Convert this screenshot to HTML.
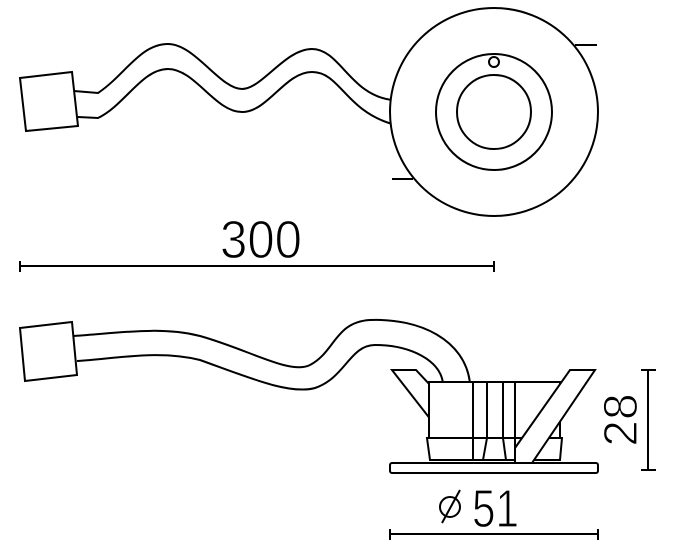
<!DOCTYPE html>
<html><head><style>html,body{margin:0;padding:0;background:#fff;}svg{display:block}</style></head>
<body>
<svg width="693" height="550" viewBox="0 0 693 550" xmlns="http://www.w3.org/2000/svg" fill="none" stroke="#000" stroke-width="2">
<!-- top view -->
<polygon points="20,78 72,72 78,126 26,131" fill="#fff"/>
<path d="M74,91 L98,93 C125,75 140,44 168,44 C195,44 220,89 242,89 C262,89 285,49 312,49 C340,49 350,95 392,100"/>
<path d="M78,117 L98,118 C125,105 142,69 168,69 C195,69 215,112 242,112 C268,112 285,72 312,72 C340,72 345,110 392,124"/>
<circle cx="494" cy="112" r="104" fill="#fff"/>
<circle cx="494" cy="112" r="58"/>
<circle cx="494" cy="112" r="37"/>
<circle cx="494" cy="62" r="5"/>
<line x1="575" y1="45" x2="597" y2="45"/>
<line x1="392" y1="179" x2="413" y2="179"/>
<!-- 300 dim -->
<line x1="20" y1="266" x2="494" y2="266"/>
<line x1="20" y1="261" x2="20" y2="272"/>
<line x1="494" y1="261" x2="494" y2="272"/>
<text x="261" y="258" font-family="Liberation Sans, sans-serif" font-size="54" text-anchor="middle" fill="#000" stroke="#fff" stroke-width="1.2" textLength="82" lengthAdjust="spacingAndGlyphs">300</text>
<!-- side view cable -->
<polygon points="20,328 72,322 77,375 25,381" fill="#fff"/>
<path d="M74,336 C120,333 160,326 200,336 C250,350 290,375 310,365 C335,352 335,322 370,320 C420,318 465,340 470,383"/>
<path d="M77,361 C120,358 160,350 200,360 C250,378 290,395 315,388 C345,378 350,345 375,345 C410,345 440,360 443,383"/>
<!-- fixture -->
<rect x="390" y="463" width="208" height="10" rx="2" fill="#fff"/>
<path d="M427,438 L562,438 L560,460 L430,460 Z" fill="#fff"/>
<polygon points="392,370 416,370 431,386 431,420" fill="#fff"/>
<rect x="429" y="382" width="131" height="56" fill="#fff"/>
<line x1="473" y1="382" x2="473" y2="460"/>
<line x1="487" y1="382" x2="487" y2="438"/>
<line x1="503" y1="382" x2="503" y2="438"/>
<line x1="515" y1="382" x2="515" y2="460"/>
<path d="M487,438 L483,460 M503,438 L506,460"/>
<line x1="429" y1="438" x2="562" y2="438"/>
<polygon points="570,370 595,370 532,463 515,463 515,448" fill="#fff"/>
<!-- 28 dim -->
<line x1="648" y1="370" x2="648" y2="470"/>
<line x1="641" y1="370" x2="656" y2="370"/>
<line x1="641" y1="470" x2="656" y2="470"/>
<text x="0" y="0" transform="translate(637,420) rotate(-90)" font-family="Liberation Sans, sans-serif" font-size="48" text-anchor="middle" fill="#000" stroke="#fff" stroke-width="1.2">28</text>
<!-- 51 dim -->
<line x1="390" y1="534" x2="598" y2="534"/>
<line x1="390" y1="529" x2="390" y2="540"/>
<line x1="598" y1="529" x2="598" y2="540"/>
<circle cx="450" cy="507" r="10"/>
<line x1="442" y1="523" x2="460" y2="490"/>
<text x="472" y="527" font-family="Liberation Sans, sans-serif" font-size="54" fill="#000" stroke="#fff" stroke-width="1.2" textLength="47" lengthAdjust="spacingAndGlyphs">51</text>
</svg>
</body></html>
